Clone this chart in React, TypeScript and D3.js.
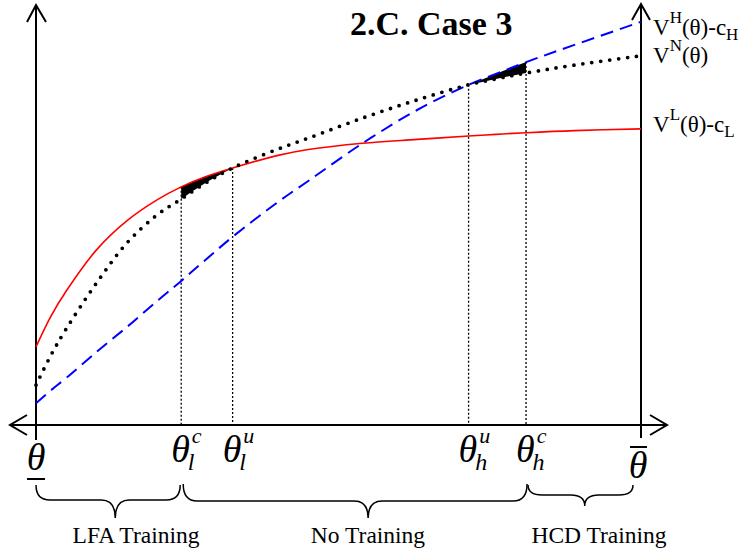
import React from "react";
import * as d3 from "d3";

// theta grid and the three value curves
const thetas = [0, 0.25, 0.5, 1, 1.5, 2, 2.4, 2.8, 3.25, 4, 4.5, 5.4, 6.3, 7.15, 7.6, 8.1, 8.9, 10];
const vLow = [1.86, 2.6, 3.19, 4.17, 4.86, 5.36, 5.67, 5.91, 6.12, 6.42, 6.56, 6.71, 6.8, 6.88, 6.92, 6.96, 7.01, 7.05];
const vNone = [0.95, 1.67, 2.29, 3.38, 4.33, 5.0, 5.38, 5.76, 6.12, 6.57, 6.83, 7.31, 7.74, 8.1, 8.24, 8.38, 8.57, 8.79];
const vHigh = [0.52, 0.83, 1.12, 1.74, 2.33, 2.95, 3.43, 3.93, 4.48, 5.31, 5.81, 6.71, 7.5, 8.1, 8.36, 8.64, 9.05, 9.6];

// cut-off points on the theta axis
const cutNames = ["lc", "lu", "hu", "hc"];
const cutThetas = [2.4, 3.25, 7.15, 8.1];
const cutSub = ["l", "l", "h", "h"];
const cutSup = ["c", "u", "u", "c"];

// regions under the braces
const regionLabels = ["LFA Training", "No Training", "HCD Training"];
const regionFrom = [0, 2.4, 8.1];
const regionTo = [2.4, 8.1, 10];

const W = 738;
const H = 556;
const serif = "'Times New Roman', 'Liberation Serif', Times, serif";

export default function App() {
  const x = d3.scaleLinear().domain([0, 10]).range([36, 641]);
  const y = d3.scaleLinear().domain([0, 10]).range([425, 5]);

  const rows = thetas.map((t, i) => ({ t, lo: vLow[i], no: vNone[i], hi: vHigh[i] }));
  const curve = d3.curveCatmullRom.alpha(0.5);

  const line = (key: "lo" | "no" | "hi") =>
    d3.line<any>().x((d) => x(d.t)).y((d) => y(d[key])).curve(curve)(rows) || "";

  const hatchLow = d3
    .area<any>()
    .x((d) => x(d.t))
    .y0((d) => y(d.no))
    .y1((d) => y(d.lo))
    .curve(d3.curveMonotoneX)(rows.filter((d) => d.t >= 2.4 && d.t <= 3.25)) || "";
  const hatchHigh = d3
    .area<any>()
    .x((d) => x(d.t))
    .y0((d) => y(d.no))
    .y1((d) => y(d.hi))
    .curve(d3.curveMonotoneX)(rows.filter((d) => d.t >= 7.15 && d.t <= 8.1)) || "";

  // top of each dotted drop line
  const cutTop = [
    vLow[thetas.indexOf(2.4)],
    vLow[thetas.indexOf(3.25)],
    vNone[thetas.indexOf(7.15)],
    vHigh[thetas.indexOf(8.1)],
  ];

  const brace = (x1: number, x2: number, tip: number, yTop: number, yLine: number, yTip: number) => {
    const r = 14;
    return `M${x1},${yTop} Q${x1},${yLine} ${x1 + r},${yLine} L${tip - r},${yLine} Q${tip},${yLine} ${tip},${yTip} Q${tip},${yLine} ${tip + r},${yLine} L${x2 - r},${yLine} Q${x2},${yLine} ${x2},${yTop}`;
  };
  const braceTips = [1.31, 5.49, 9.07];
  const braceDepth = [
    [485, 500, 518],
    [484, 501, 518],
    [485, 495, 506],
  ];
  const braceEnds = [
    [x(regionFrom[0]), x(regionTo[0]) - 1],
    [x(regionFrom[1]) + 2, x(regionTo[1]) + 1],
    [x(regionFrom[2]) + 2, x(regionTo[2]) - 8],
  ];
  const labelCenters = [136, 368, 599];

  const x0 = x(0);
  const x1 = x(10);
  const yAxis = y(0);

  return (
    <svg width={W} height={H} style={{ position: "absolute", left: 0, top: 0, background: "#fff", fontFamily: serif }}>
      {/* axes */}
      <g stroke="#000" strokeWidth={2} fill="none">
        <line x1={10} y1={yAxis} x2={667} y2={yAxis} />
        <path d={`M27,${yAxis - 10} L10,${yAxis} L27,${yAxis + 10}`} />
        <path d={`M650,${yAxis - 10} L667,${yAxis} L650,${yAxis + 10}`} />
        <line x1={x0} y1={5} x2={x0} y2={440} />
        <path d={`M27,22 L${x0},5 L46,22`} />
        <line x1={x1} y1={4} x2={x1} y2={438} />
        <path d={`M${x1 - 9},20 L${x1},4 L${x1 + 9},20`} />
      </g>

      {/* dotted drop lines */}
      <g stroke="#000" strokeWidth={1.3} strokeDasharray="2 2">
        {cutThetas.map((t, i) => (
          <line key={cutNames[i]} x1={x(t)} x2={x(t)} y1={y(cutTop[i])} y2={yAxis} />
        ))}
      </g>

      {/* hatched gaps */}
      <path d={hatchLow} fill="#000" />
      <path d={hatchHigh} fill="#000" />

      {/* curves */}
      <path d={line("lo")} fill="none" stroke="#ff0000" strokeWidth={1.6} />
      <path d={line("hi")} fill="none" stroke="#0000ff" strokeWidth={2} strokeDasharray="13 7" />
      <path d={line("no")} fill="none" stroke="#000" strokeWidth={3.8} strokeDasharray="0 9" strokeLinecap="round" />

      {/* title */}
      <text x={350} y={35} fontSize={34} fontWeight="bold">2.C. Case 3</text>

      {/* right labels */}
      <text x={653} y={35} fontSize={23}>
        V<tspan fontSize={17} dy={-12}>H</tspan>
        <tspan dy={12}>(θ)-c</tspan>
        <tspan fontSize={17} dy={5}>H</tspan>
      </text>
      <text x={653} y={63} fontSize={23}>
        V<tspan fontSize={17} dy={-12}>N</tspan>
        <tspan dy={12}>(θ)</tspan>
      </text>
      <text x={653} y={132} fontSize={23}>
        V<tspan fontSize={17} dy={-12}>L</tspan>
        <tspan dy={12}>(θ)-c</tspan>
        <tspan fontSize={17} dy={5}>L</tspan>
      </text>

      {/* theta axis labels */}
      <g fontStyle="italic">
        <text x={x0} y={470} fontSize={38} textAnchor="middle">θ</text>
        <line x1={x0 - 9} x2={x0 + 9} y1={479} y2={479} stroke="#000" strokeWidth={2} />
        <text x={x1 - 3} y={478} fontSize={38} textAnchor="middle">θ</text>
        <line x1={x1 - 11} x2={x1 + 6} y1={447} y2={447} stroke="#000" strokeWidth={2} />
        {cutThetas.map((t, i) => (
          <text key={cutNames[i]} x={x(t) - 10} y={462} fontSize={38}>
            θ
            <tspan fontSize={22} dx={2} dy={-19}>{cutSup[i]}</tspan>
            <tspan fontSize={24} dx={cutSup[i] === "c" ? -14 : -15} dy={27}>{cutSub[i]}</tspan>
          </text>
        ))}
      </g>

      {/* braces */}
      <g fill="none" stroke="#000" strokeWidth={1.5}>
        {regionLabels.map((lab, i) => (
          <path
            key={lab}
            d={brace(braceEnds[i][0], braceEnds[i][1], x(braceTips[i]), braceDepth[i][0], braceDepth[i][1], braceDepth[i][2])}
          />
        ))}
      </g>
      {regionLabels.map((lab, i) => (
        <text key={lab} x={labelCenters[i]} y={543} fontSize={23.5} textAnchor="middle">
          {lab}
        </text>
      ))}
    </svg>
  );
}
